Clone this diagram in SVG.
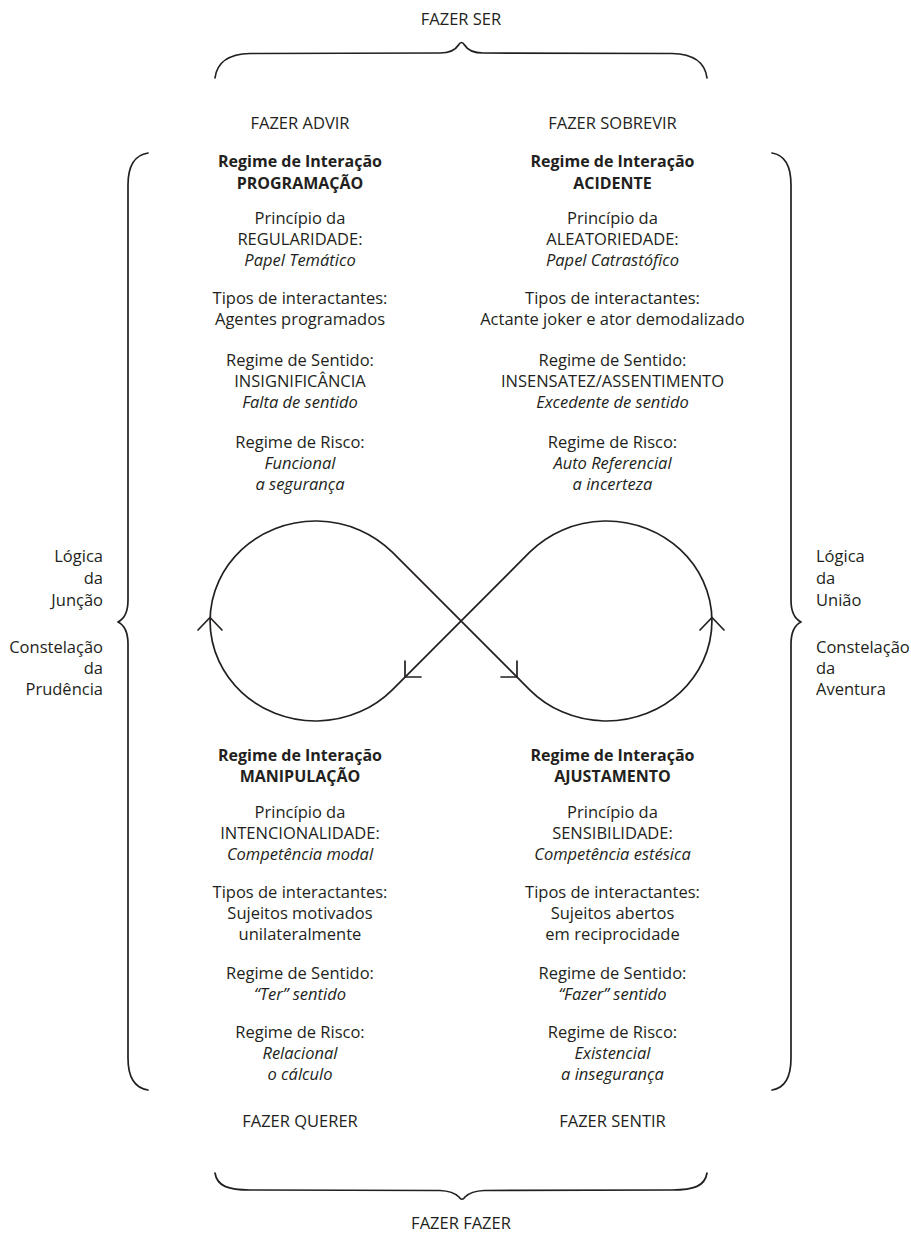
<svg xmlns="http://www.w3.org/2000/svg" width="911" height="1233" viewBox="0 0 911 1233">
<style>
text{font-family:"Open Sans","Noto Sans",sans-serif;font-size:16.5px;fill:#231f20;text-anchor:middle}
.b{font-weight:bold;font-size:16px}
.i{font-style:italic}
.l{text-anchor:end}
.r{text-anchor:start}
.ln{fill:none;stroke:#231f20;stroke-width:1.7;stroke-linecap:round;stroke-linejoin:round}
</style>
<rect width="911" height="1233" fill="#fff"/>

<g id="braces">
<path class="ln" d="M215 78 C217 62 228 54 250 53.5 L440 53 C452 53 456 49 458.5 45 Q461.5 40 464.5 45 C467 49 471 53 483 53 L672 53.5 C694 54 705 62 707 78"/>
<path class="ln" d="M215 1173 C217 1186 228 1190 250 1190 L440 1190.5 C452 1191 456 1194 459 1197 Q462 1201.5 465 1197 C468 1194 472 1191 484 1190.5 L672 1190 C694 1190 705 1186 707 1173"/>
<path class="ln" d="M148 153 C135 155 128 165 128 185 L128 600 C128 612 124 619 118 622 C124 625 128 632 128 644 L128 1058 C128 1078 135 1088 148 1090"/>
<path class="ln" d="M772 153 C785 155 791 165 791 185 L791 600 C791 612 795 619 801 622 C795 625 791 632 791 644 L791 1058 C791 1078 785 1088 772 1090"/>
</g>

<g id="label-top"><text x="461" y="25">FAZER SER</text></g>
<g id="label-bottom"><text x="461" y="1229">FAZER FAZER</text></g>

<g id="label-left">
<text class="l" x="103" y="562">Lógica</text>
<text class="l" x="103" y="584">da</text>
<text class="l" x="103" y="606">Junção</text>
<text class="l" x="103" y="653">Constelação</text>
<text class="l" x="103" y="674">da</text>
<text class="l" x="103" y="695">Prudência</text>
</g>
<g id="label-right">
<text class="r" x="816" y="562">Lógica</text>
<text class="r" x="816" y="584">da</text>
<text class="r" x="816" y="606">União</text>
<text class="r" x="816" y="653">Constelação</text>
<text class="r" x="816" y="674">da</text>
<text class="r" x="816" y="695">Aventura</text>
</g>

<g id="programacao">
<text x="300" y="129">FAZER ADVIR</text>
<text class="b" x="300" y="167">Regime de Interação</text>
<text class="b" x="300" y="189">PROGRAMAÇÃO</text>
<text x="300" y="224">Princípio da</text>
<text x="300" y="245">REGULARIDADE:</text>
<text class="i" x="300" y="266">Papel Temático</text>
<text x="300" y="304">Tipos de interactantes:</text>
<text x="300" y="325">Agentes programados</text>
<text x="300" y="366">Regime de Sentido:</text>
<text x="300" y="387">INSIGNIFICÂNCIA</text>
<text class="i" x="300" y="408">Falta de sentido</text>
<text x="300" y="448">Regime de Risco:</text>
<text class="i" x="300" y="469">Funcional</text>
<text class="i" x="300" y="490">a segurança</text>
</g>

<g id="acidente">
<text x="612.5" y="129">FAZER SOBREVIR</text>
<text class="b" x="612.5" y="167">Regime de Interação</text>
<text class="b" x="612.5" y="189">ACIDENTE</text>
<text x="612.5" y="224">Princípio da</text>
<text x="612.5" y="245">ALEATORIEDADE:</text>
<text class="i" x="612.5" y="266">Papel Catrastófico</text>
<text x="612.5" y="304">Tipos de interactantes:</text>
<text x="612.5" y="325">Actante joker e ator demodalizado</text>
<text x="612.5" y="366">Regime de Sentido:</text>
<text x="612.5" y="387">INSENSATEZ/ASSENTIMENTO</text>
<text class="i" x="612.5" y="408">Excedente de sentido</text>
<text x="612.5" y="448">Regime de Risco:</text>
<text class="i" x="612.5" y="469">Auto Referencial</text>
<text class="i" x="612.5" y="490">a incerteza</text>
</g>

<g id="manipulacao">
<text class="b" x="300" y="761">Regime de Interação</text>
<text class="b" x="300" y="782">MANIPULAÇÃO</text>
<text x="300" y="818">Princípio da</text>
<text x="300" y="839">INTENCIONALIDADE:</text>
<text class="i" x="300" y="860">Competência modal</text>
<text x="300" y="898">Tipos de interactantes:</text>
<text x="300" y="919">Sujeitos motivados</text>
<text x="300" y="940">unilateralmente</text>
<text x="300" y="979">Regime de Sentido:</text>
<text class="i" x="300" y="1000">“Ter” sentido</text>
<text x="300" y="1038">Regime de Risco:</text>
<text class="i" x="300" y="1059">Relacional</text>
<text class="i" x="300" y="1080">o cálculo</text>
<text x="300" y="1127">FAZER QUERER</text>
</g>

<g id="ajustamento">
<text class="b" x="612.5" y="761">Regime de Interação</text>
<text class="b" x="612.5" y="782">AJUSTAMENTO</text>
<text x="612.5" y="818">Princípio da</text>
<text x="612.5" y="839">SENSIBILIDADE:</text>
<text class="i" x="612.5" y="860">Competência estésica</text>
<text x="612.5" y="898">Tipos de interactantes:</text>
<text x="612.5" y="919">Sujeitos abertos</text>
<text x="612.5" y="940">em reciprocidade</text>
<text x="612.5" y="979">Regime de Sentido:</text>
<text class="i" x="612.5" y="1000">“Fazer” sentido</text>
<text x="612.5" y="1038">Regime de Risco:</text>
<text class="i" x="612.5" y="1059">Existencial</text>
<text class="i" x="612.5" y="1080">a insegurança</text>
<text x="612.5" y="1127">FAZER SENTIR</text>
</g>

<g id="connectors">
<path class="ln" d="M392.3 552.2 L529.7 689.8 A105.6 100 0 1 0 529.7 552.2 L392.3 689.8 A105.6 100 0 1 1 392.3 552.2 Z"/>
<path class="ln" d="M198 630 L210 617.5 L222 630"/>
<path class="ln" d="M700 630 L712 617.5 L724 630"/>
<path class="ln" d="M405 661 L405 677 L421 677"/>
<path class="ln" d="M517 661 L517 677 L501 677"/>
</g>
</svg>
